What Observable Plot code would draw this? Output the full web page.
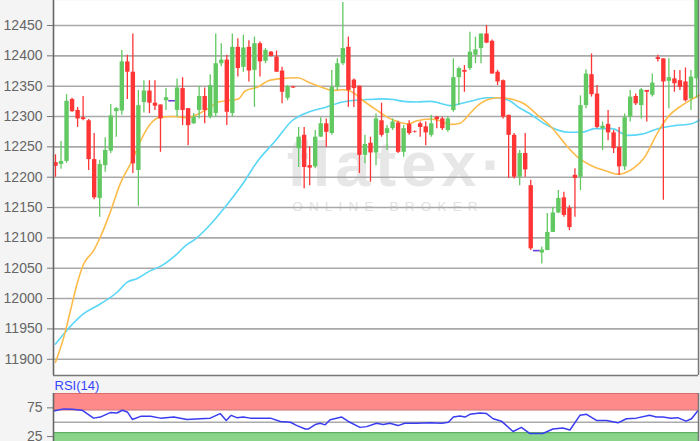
<!DOCTYPE html>
<html><head><meta charset="utf-8">
<script src="https://cdn.jsdelivr.net/npm/d3@7"></script>
<script src="https://cdn.jsdelivr.net/npm/@observablehq/plot@0.6"></script>
<style>
html,body{margin:0;padding:0;background:#f4f4f4;overflow:hidden;width:700px;height:441px}
svg{display:block}
</style></head><body><div id="chart"></div>
<script>
// ---- data ----
const opens = [12224,12221,12226,12328,12310,12298,12293,12229,12165,12219,
12243,12308,12309,12390,12373,12211,12323,12342,12322,12319,
12326,12326,12310,12346,12313,12288,12310,12333,12299,12305,
12387,12393,12305,12414,12381,12414,12376,12420,12391,12406,
12398,12375,12330,12349,12247,12269,12219,12217,12266,12288,
12272,12348,12387,12414,12360,12350,12236,12256,12240,12293,
12272,12280,12289,12241,12287,12275,12288,12283,12269,12299,
12296,12277,12310,12364,12376,12379,12401,12412,12436,12424,
12373,12359,12302,12269,12200,12239,12186,12079,12075,12079,
12109,12141,12166,12149,12203,12200,12318,12369,12337,12280,
12287,12273,12249,12217,12299,12333,12318,12343,12335,12397,
12395,12358,12362,12359,12357,12329,12362];
const highs = [12237,12259,12336,12330,12315,12333,12295,12272,12228,12265,
12320,12315,12409,12401,12436,12343,12359,12359,12359,12319,
12346,12326,12362,12364,12313,12305,12350,12347,12369,12436,
12420,12401,12436,12428,12434,12425,12431,12423,12412,12407,
12408,12381,12351,12350,12282,12282,12250,12277,12298,12296,
12376,12395,12488,12431,12362,12350,12269,12266,12304,12322,
12285,12296,12292,12285,12293,12276,12291,12291,12302,12300,
12299,12299,12395,12381,12384,12439,12431,12436,12450,12426,
12376,12360,12302,12272,12244,12272,12195,12079,12085,12140,
12150,12178,12175,12153,12214,12334,12377,12403,12351,12291,
12310,12277,12282,12304,12343,12337,12346,12343,12370,12401,
12395,12395,12376,12376,12380,12376,12520];
const lows = [12200,12213,12223,12307,12282,12293,12211,12163,12134,12208,
12239,12266,12302,12328,12206,12152,12306,12305,12310,12241,
12310,12326,12299,12285,12252,12287,12296,12288,12296,12299,
12382,12285,12299,12365,12373,12357,12315,12365,12387,12398,
12373,12321,12326,12346,12216,12181,12186,12214,12266,12249,
12269,12343,12384,12315,12315,12206,12222,12192,12219,12266,
12244,12277,12239,12233,12269,12273,12266,12252,12266,12280,
12277,12274,12307,12318,12340,12376,12387,12387,12420,12370,
12351,12296,12198,12197,12186,12200,12079,12079,12057,12079,
12109,12140,12134,12112,12134,12178,12313,12332,12280,12244,
12260,12239,12203,12211,12291,12318,12296,12291,12332,12390,
12162,12313,12340,12343,12324,12310,12330];
const closes = [12218,12226,12325,12308,12296,12295,12229,12166,12221,12244,
12301,12313,12390,12373,12222,12318,12342,12322,12317,12296,
12331,12326,12347,12310,12285,12299,12333,12310,12351,12387,
12393,12307,12414,12379,12413,12375,12420,12390,12409,12399,
12373,12340,12349,12347,12266,12216,12215,12266,12288,12274,
12348,12387,12412,12343,12346,12236,12254,12240,12296,12269,
12280,12291,12241,12280,12272,12274,12282,12273,12288,12295,
12280,12296,12364,12379,12373,12406,12410,12436,12421,12370,
12357,12299,12269,12200,12239,12212,12082,12079,12080,12109,
12141,12165,12137,12117,12198,12318,12370,12336,12282,12284,
12273,12247,12217,12298,12332,12321,12344,12340,12355,12394,
12357,12364,12354,12348,12326,12365,12520];

// moving averages: position (bar index) and value
const ma1Pos = [0,1.5,2.7,3.9,5.1,6.9,8.1,9.9,11.7,13.9,15.4,17.2,19,21.3,24,25.3,27.6,29.5,33.1,34.3,36.7,38.5,40.3,43.9,45.7,48.3,50.1,51.9,53.3,55.7,58.2,60,61.8,63.8,65.4,67.8,69.6,71.4,73.2,75,76.8,78.6,80.4,82.8,84.8,87.3,89.8,92.2,94.5,97,99.4,101.7,103,104.8,106.6,109,110.8,113.3,115.1,116.5];
const ma1Val = [11895,11936,11980,12024,12057,12079,12101,12142,12189,12228,12260,12288,12299,12300,12298,12302,12313,12324,12329,12342,12349,12359,12362,12364,12357,12348,12343,12344,12342,12326,12310,12299,12292,12288,12293,12296,12293,12287,12289,12305,12321,12329,12331,12328,12321,12302,12282,12255,12233,12219,12211,12205,12207,12216,12233,12274,12299,12318,12328,12335];
const ma2Pos = [0,1.8,5.1,8.1,11.1,13,14.8,17.2,19,21.7,23.5,25.3,27.6,30.7,33.8,36.7,39.8,42.8,45.7,48.8,51.9,53.3,56.4,59.3,61.1,62.9,65.4,67.8,69.6,71.4,73.2,75.5,78.1,79.9,82.2,84,85.8,88.5,92.7,95.2,97.6,100.7,103.5,106.1,109,112,115.1,116.5];
const ma2Val = [11925,11945,11975,11991,12010,12027,12033,12046,12053,12071,12087,12098,12118,12151,12188,12228,12260,12293,12307,12315,12324,12326,12328,12329,12328,12325,12324,12325,12322,12318,12321,12326,12331,12331,12326,12314,12305,12288,12274,12274,12280,12280,12269,12271,12280,12285,12288,12294];

const rsiPos = [-0.3,1.5,3,4.8,6.9,8.1,9.9,11.1,12.1,13,13.9,15.4,17.2,19,21.4,23.8,26.2,28,29.8,30.9,31.8,32.8,34,35.2,37,38.9,40.7,42.5,43.7,45.2,45.8,47,47.9,48.8,49.7,51.8,53,55.1,56.3,58.1,59.3,60.5,62,63.2,65.4,67.8,69.9,71.1,72,73.2,74.1,75,76.8,78,79.2,80.7,82.8,84.3,85.8,88.2,90,91.8,93.1,94.9,96.1,97.9,99.7,101.8,103.3,105.1,107.5,108.7,109.9,111.4,112.6,114.1,115.1,116.2];
const rsiVal = [69.6,73.2,72.7,70.9,57.1,58.9,66.8,66.1,70.9,67.9,54.8,60.2,60.2,57.1,58.9,54.8,56,57.1,65,53,62,57.9,58.9,57.1,57.1,57.1,51.3,50,44.1,38.2,38.2,45.9,48.2,45.4,54.3,58.9,51.3,41,42.3,48.2,45.9,48.2,44.1,48.2,48.2,48.9,48.2,50,58.9,60.7,58.9,63.8,66.1,65,56,51.8,33.9,41,30.4,30.4,38.2,40,36.4,62,63.8,53,53,48.9,56,57.1,62,58.9,58.9,57.1,57.9,51.8,56,69.6];

const priceTicks = [11900,11950,12000,12050,12100,12150,12200,12250,12300,12350,12400,12450];
const rsiTicks = [25, 75];
const rsiMid = [50];
const rsiUpperBand = [71.5, 100];
const rsiLowerBand = [16.4, 32];

// ---- layout / style ----
const xDomain = [-0.36, 116.36];
const yDomain = [11873.2, 12491.2];
const GREEN = "#62c962", RED = "#ff3535", DOJI = "#6a3cd8";
const font = "Liberation Sans, Arial, sans-serif";

const candles = opens.map((o, i) => ({i, o, h: highs[i], l: lows[i], c: closes[i]}));
const col = d => d.c > d.o ? GREEN : d.c < d.o ? RED : DOJI;
const ma1 = ma1Pos.map((p, k) => ({p, v: ma1Val[k]}));
const ma2 = ma2Pos.map((p, k) => ({p, v: ma2Val[k]}));
const rsi = rsiPos.map((p, k) => ({p, v: rsiVal[k]}));
const fmt = d => String(d);

const main = Plot.plot({
  width: 700, height: 377,
  marginLeft: 53, marginRight: 2, marginTop: 0, marginBottom: 2,
  x: {domain: xDomain, axis: null},
  y: {domain: yDomain, axis: null, label: null},
  style: {background: "transparent", fontFamily: font, color: "#666"},
  marks: [
    Plot.frame({fill: "white", stroke: null}),
    Plot.text(["flatex·"], {frameAnchor: "middle", dx: 21, dy: -22, fontSize: 63, fontWeight: "bold", fill: "#e7e7e7"}),
    Plot.text(["ONLINE BROKER"], {frameAnchor: "middle", dx: 12, dy: 19, fontSize: 13.5, fill: "#e2e2e2"}),
    Plot.gridY(priceTicks, {stroke: "#a9a9a9", strokeOpacity: 1, strokeWidth: 1.6}),
    Plot.axisY(priceTicks, {tickSize: 6, tickPadding: 5, fontSize: 14, stroke: "#777", fill: "#666", tickFormat: fmt, label: null}),
    Plot.line(ma2, {x: "p", y: "v", stroke: "#5ad6f6", strokeWidth: 1.6, curve: "monotone-x"}),
    Plot.line(ma1, {x: "p", y: "v", stroke: "#fdbb4a", strokeWidth: 1.6, curve: "monotone-x"}),
    Plot.ruleX(candles, {x: "i", y1: "l", y2: "h", stroke: col, strokeWidth: 1.3}),
    Plot.ruleX(candles.filter(d => d.o !== d.c), {x: "i", y1: "o", y2: "c", stroke: col, strokeWidth: 4.4}),
    Plot.link(candles.filter(d => d.o === d.c), {x1: d => d.i - 0.6, x2: d => d.i + 0.6, y1: "o", y2: "c", stroke: DOJI, strokeWidth: 1.6}),
    Plot.ruleX([xDomain[0]], {stroke: "#666", strokeWidth: 1.6}),
    Plot.ruleX([xDomain[1]], {stroke: "#777", strokeWidth: 1.5}),
    Plot.ruleY([yDomain[0]], {stroke: "#777", strokeWidth: 1.6})
  ]
});

const rsiChart = Plot.plot({
  width: 700, height: 64,
  marginLeft: 53, marginRight: 2, marginTop: 16, marginBottom: 0,
  x: {domain: xDomain, axis: null},
  y: {domain: [16.4, 100], axis: null, label: null},
  style: {background: "transparent", fontFamily: font, color: "#666"},
  marks: [
    Plot.frame({fill: "white", stroke: null}),
    Plot.rect([0], {y1: rsiUpperBand[0], y2: rsiUpperBand[1], fill: "#ff8a8a"}),
    Plot.rect([0], {y1: rsiLowerBand[0], y2: rsiLowerBand[1], fill: "#8ad48a"}),
    Plot.ruleY(rsiUpperBand, {stroke: "#d86a6a", strokeWidth: 1.2}),
    Plot.ruleY([rsiLowerBand[1]], {stroke: "#5fb05f", strokeWidth: 1.2}),
    Plot.ruleY(rsiMid, {stroke: "#aaa", strokeWidth: 1.6}),
    Plot.axisY(rsiTicks, {tickSize: 6, tickPadding: 5, fontSize: 14, stroke: "#777", fill: "#666", tickFormat: fmt, label: null}),
    Plot.line(rsi, {x: "p", y: "v", stroke: "#3a3cf0", strokeWidth: 1.5}),
    Plot.ruleX([xDomain[0]], {stroke: "#666", strokeWidth: 1.6}),
    Plot.ruleX([xDomain[1]], {stroke: "#777", strokeWidth: 1.5}),
    Plot.text(["RSI(14)"], {frameAnchor: "top-left", dx: 1, dy: -13, fontSize: 13, fill: "#3344ff"})
  ]
});

const root = document.getElementById("chart");
root.appendChild(main);
root.appendChild(rsiChart);
d3.select(main).selectAll("text").filter(function(){ return this.textContent === "ONLINE BROKER"; }).attr("letter-spacing", 6.2);
d3.select(main).selectAll("text").filter(function(){ return this.textContent === "flatex·"; }).attr("letter-spacing", 5);
</script></body></html>
